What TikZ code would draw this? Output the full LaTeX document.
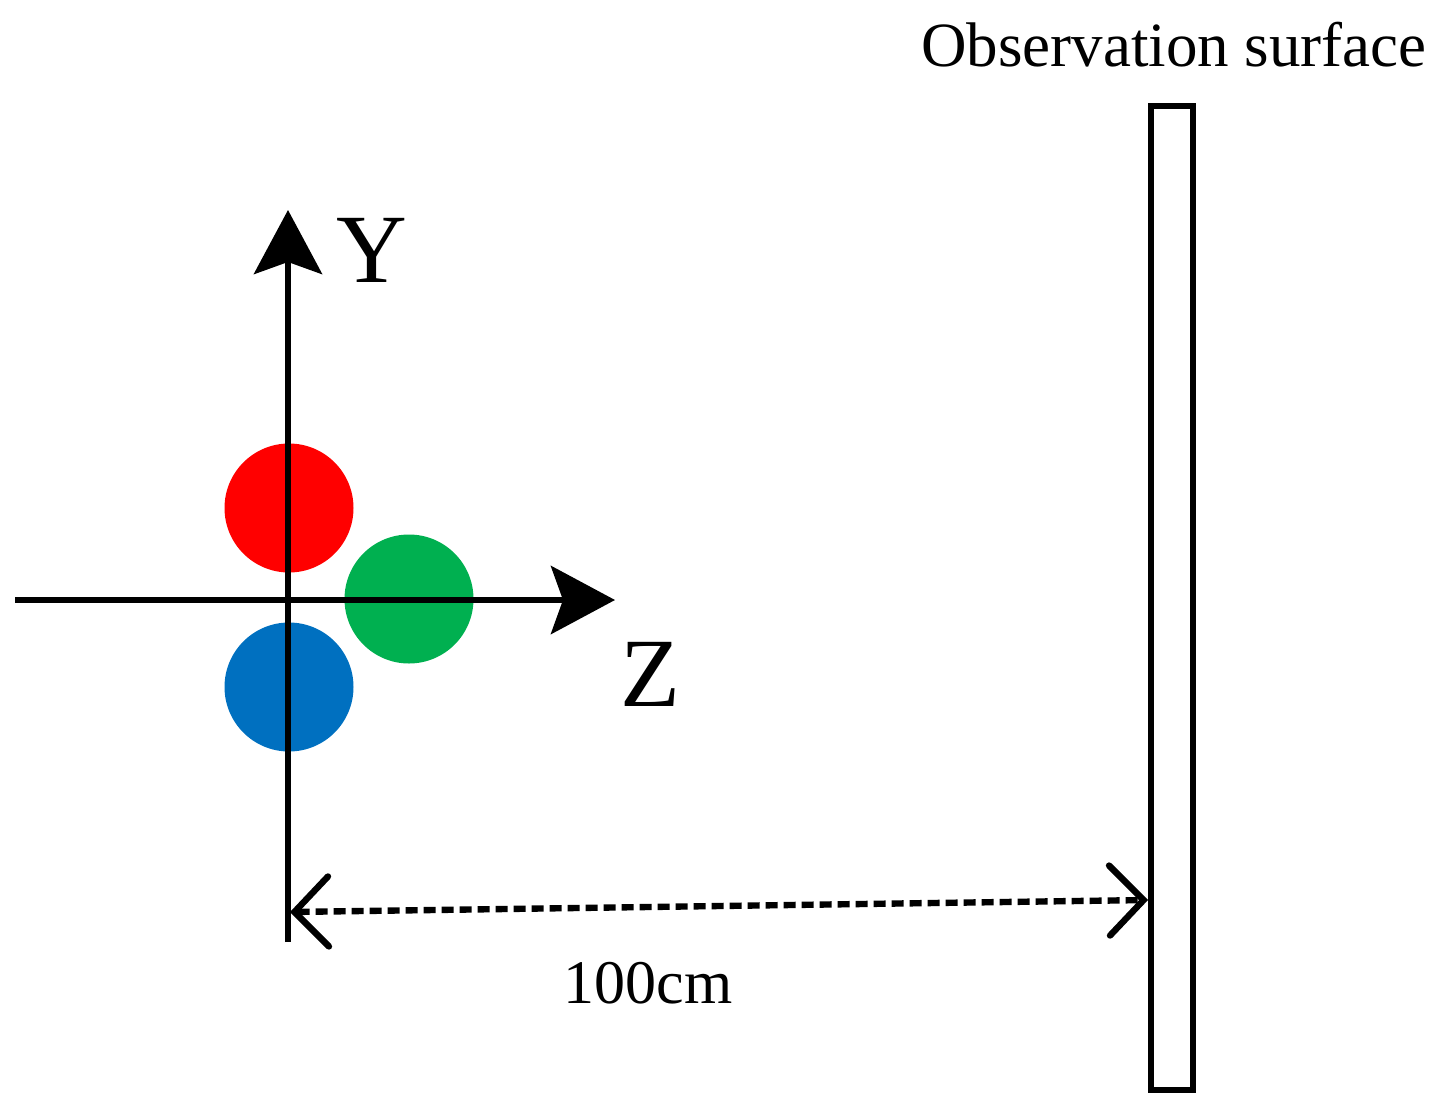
\documentclass[tikz,border=0pt]{standalone}
\usepackage{fontspec}
\setmainfont{Liberation Serif}
\usetikzlibrary{arrows.meta}
\definecolor{cred}{HTML}{FF0000}
\definecolor{cgreen}{HTML}{00B050}
\definecolor{cblue}{HTML}{0070C0}
\begin{document}
\begin{tikzpicture}[x=0.5pt,y=-0.5pt,
  axis/.style={line width=3.2pt,-{Stealth[length=32pt,width=34pt,inset=6pt]}},
  dot/.style={circle,minimum size=64.5pt,inner sep=0pt},
  lbl/.style={inner sep=0pt}]
\useasboundingbox (0,0) rectangle (1439,1113);
\node[dot,fill=cred] (r) at (289,508) {};
\node[dot,fill=cgreen] (g) at (409,599) {};
\node[dot,fill=cblue] (b) at (289,687) {};
\coordinate (yb) at (288,942);
\coordinate (yt) at (288,210);
\coordinate (zl) at (15,600);
\coordinate (zr) at (615,600);
\draw[axis] (yb) -- (yt);
\draw[axis] (zl) -- (zr);
\node[draw,line width=3pt,minimum width=21pt,minimum height=492pt,inner sep=0pt] (surf) at (1171.5,598) {};
\coordinate (da) at (290,912);
\coordinate (db) at (1148,900);
\draw[line width=3.2pt,dash pattern=on 6pt off 3pt,{Straight Barb[length=17pt,width=35pt,line cap=round]}-{Straight Barb[length=17pt,width=35pt,line cap=round]}] (da) -- (db);
\node[lbl,font=\fontsize{49}{49}\selectfont] (ylab) at (372,250) {Y};
\node[lbl,font=\fontsize{49}{49}\selectfont] (zlab) at (650,674) {Z};
\node[lbl,font=\fontsize{31}{31}\selectfont] (dist) at (648,983) {100cm};
\node[lbl,font=\fontsize{31.5}{31.5}\selectfont] (obs) at (1174,45) {Observation surface};
\end{tikzpicture}
\end{document}
